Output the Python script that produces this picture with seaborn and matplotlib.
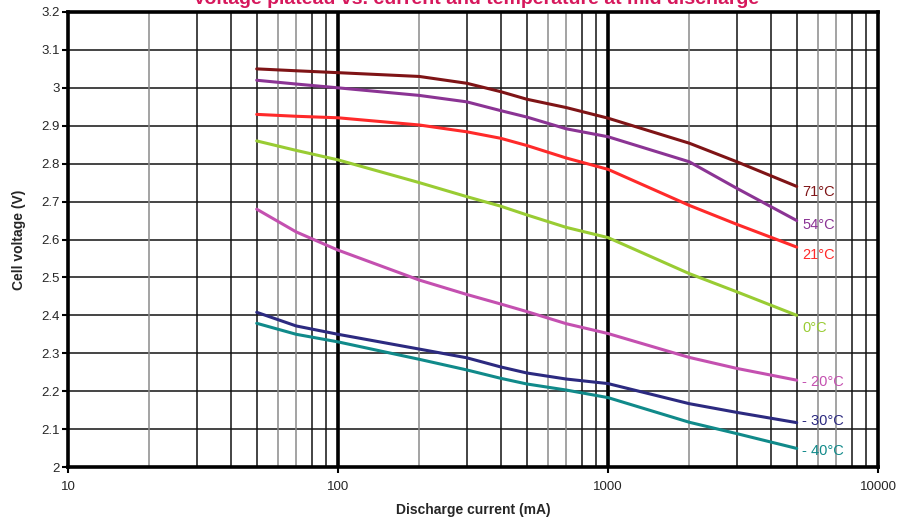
import pandas as pd
import matplotlib.pyplot as plt
import matplotlib.ticker as mticker
import seaborn as sns

# discharge current (mA) at which each curve was read
current = [50, 70, 100, 200, 300, 400, 500, 700, 1000, 2000, 3000, 5000]

# cell voltage (V) per temperature
v_71 = [3.05, 3.045, 3.04, 3.03, 3.012, 2.99, 2.97, 2.948, 2.92, 2.854, 2.805, 2.74]
v_54 = [3.02, 3.01, 3.0, 2.98, 2.963, 2.94, 2.923, 2.892, 2.871, 2.805, 2.735, 2.65]
v_21 = [2.93, 2.925, 2.921, 2.902, 2.884, 2.867, 2.848, 2.815, 2.785, 2.69, 2.64, 2.58]
v_0 = [2.86, 2.835, 2.81, 2.75, 2.713, 2.688, 2.665, 2.632, 2.605, 2.51, 2.462, 2.40]
v_m20 = [2.68, 2.62, 2.572, 2.493, 2.455, 2.43, 2.41, 2.378, 2.352, 2.289, 2.26, 2.229]
v_m30 = [2.408, 2.372, 2.35, 2.311, 2.288, 2.264, 2.248, 2.232, 2.22, 2.167, 2.144, 2.117]
v_m40 = [2.379, 2.35, 2.33, 2.284, 2.256, 2.234, 2.219, 2.203, 2.183, 2.118, 2.088, 2.049]

temps = ['71°C', '54°C', '21°C', '0°C', '- 20°C', '- 30°C', '- 40°C']
series = [v_71, v_54, v_21, v_0, v_m20, v_m30, v_m40]
colors = ['#7f1416', '#8b3494', '#ff2a2a', '#99cc33', '#c450b0', '#2c2a80', '#108a8a']
label_dy = [-4, -3, -6, -9, -1, 1, -2]   # label offset in points

y_ticks = [2.0, 2.1, 2.2, 2.3, 2.4, 2.5, 2.6, 2.7, 2.8, 2.9, 3.0, 3.1, 3.2]
x_ticks = [10, 100, 1000, 10000]

rows = []
for t, vals in zip(temps, series):
    for c, v in zip(current, vals):
        rows.append({'current': c, 'voltage': v, 'temp': t})
df = pd.DataFrame(rows)

sns.set_style('white')
plt.rcParams['font.family'] = ['Liberation Sans', 'DejaVu Sans']

fig = plt.figure(figsize=(9.13, 5.21), dpi=100)
ax = fig.add_axes([68 / 913, 1 - 467 / 521, 810 / 913, 455 / 521])

ax.set_xscale('log')
ax.set_xlim(10, 10000)
ax.set_ylim(2.0, 3.2)

# grid: horizontal every 0.1 V, vertical at every minor decade step
for y in y_ticks[1:-1]:
    ax.axhline(y, color='#444444', lw=1.4, zorder=1)
for dec in [10, 100, 1000]:
    for m in range(2, 10):
        col = '#8a8a8a' if m in (2, 6, 7) else '#111111'
        ax.axvline(dec * m, color=col, lw=1.1, zorder=1)
for x in [100, 1000]:
    ax.axvline(x, color='black', lw=2.6, zorder=1)

sns.lineplot(data=df, x='current', y='voltage', hue='temp', hue_order=temps,
             palette=dict(zip(temps, colors)), lw=2.2, legend=False, ax=ax, zorder=3)

for t, vals, col, dy in zip(temps, series, colors, label_dy):
    ax.annotate(t, (current[-1], vals[-1]), xytext=(4, dy), textcoords='offset points',
                ha='left', va='center', fontsize=10.5, color=col, zorder=4)

for s in ax.spines.values():
    s.set_linewidth(2.6)
    s.set_color('black')
    s.set_zorder(5)

ax.set_yticks(y_ticks)
ax.yaxis.set_major_formatter(mticker.FuncFormatter(lambda v, p: f'{v:g}'))
ax.set_xticks(x_ticks)
ax.xaxis.set_major_formatter(mticker.FuncFormatter(lambda v, p: f'{v:g}'))
ax.xaxis.set_minor_locator(mticker.NullLocator())
ax.tick_params(axis='both', which='major', direction='out', length=4, width=1.5,
               labelsize=9.5, color='black', left=True, bottom=True)
ax.tick_params(axis='x', pad=6)
ax.tick_params(axis='y', pad=2)

ax.set_xlabel('Discharge current (mA)', fontsize=10, fontweight='bold', labelpad=7)
ax.set_ylabel('Cell voltage (V)', fontsize=10, fontweight='bold', labelpad=11)

# title sits partly above the canvas, as in the original
fig.text(0.521, 1 - 4 / 521, 'Voltage plateau vs. current and temperature at mid discharge',
         ha='center', va='baseline', fontsize=14, fontweight='bold', color='#d6185c')

fig.savefig('out.png', dpi=100)
